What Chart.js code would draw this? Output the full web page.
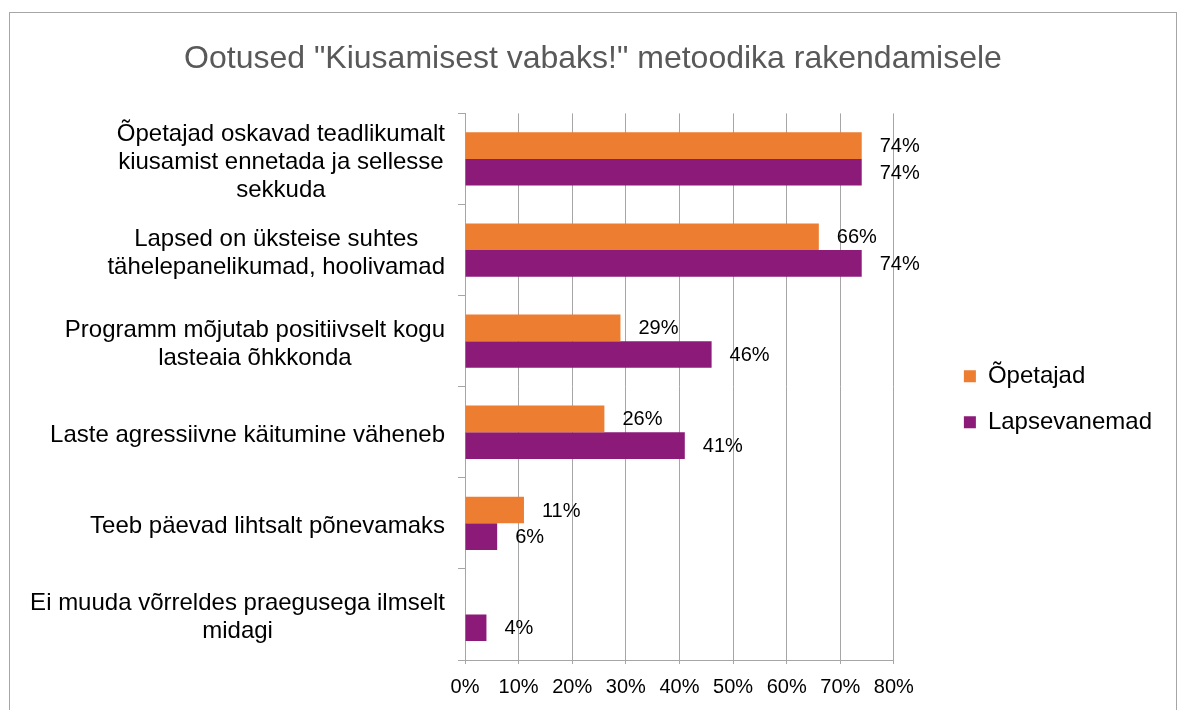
<!DOCTYPE html>
<html>
<head>
<meta charset="utf-8">
<title>Ootused</title>
<script src="https://cdn.jsdelivr.net/npm/chart.js@4.4.1/dist/chart.umd.min.js"></script>
<style>
  html, body { margin: 0; padding: 0; background: #fff; }
  #wrap { position: relative; width: 1180px; height: 710px; overflow: hidden; }
  #chart { display: block; }
  #frame { position: absolute; left: 9px; top: 12px; width: 1166px; height: 720px; border: 1px solid #a6a6a6; pointer-events: none; }
</style>
</head>
<body>
<div id="wrap">
  <canvas id="chart" width="1180" height="710"></canvas>
  <div id="frame"></div>
</div>
<script>
// andmed
const categories = [
  ["Õpetajad oskavad teadlikumalt", "kiusamist ennetada ja sellesse", "sekkuda"],
  ["Lapsed on üksteise suhtes", "tähelepanelikumad, hoolivamad"],
  ["Programm mõjutab positiivselt kogu", "lasteaia õhkkonda"],
  ["Laste agressiivne käitumine väheneb"],
  ["Teeb päevad lihtsalt põnevamaks"],
  ["Ei muuda võrreldes praegusega ilmselt", "midagi"]
];
const seriesNames = ["Õpetajad", "Lapsevanemad"];
const opetajad = [74, 66, 29, 26, 11, null];
const lapsevanemad = [74, 74, 46, 41, 6, 4];
const xMin = 0;
const xMax = 80;
const xStep = 10;
const chartTitle = 'Ootused "Kiusamisest vabaks!" metoodika rakendamisele';

const FONT = "'Liberation Sans', Arial, sans-serif";
Chart.defaults.font.family = FONT;
Chart.defaults.color = "#000";

// kategooriate sildid: iga plokk joondatud paremale, read keskel
const categoryLabels = {
  id: "categoryLabels",
  afterDraw(chart) {
    const ctx = chart.ctx;
    const y = chart.scales.y;
    ctx.save();
    ctx.font = "24px " + FONT;
    ctx.fillStyle = "#000";
    ctx.textAlign = "center";
    ctx.textBaseline = "middle";
    const right = y.right - 20;
    const lh = 28;
    categories.forEach((lines, i) => {
      const yc = y.getPixelForValue(i) + 3;
      const widest = Math.max(...lines.map(l => ctx.measureText(l).width));
      const cx = right - widest / 2;
      lines.forEach((line, j) => {
        ctx.fillText(line, cx, yc + (j - (lines.length - 1) / 2) * lh);
      });
    });
    ctx.restore();
  }
};

// väärtuste sildid tulpade järel
const valueLabels = {
  id: "valueLabels",
  afterDatasetsDraw(chart) {
    const ctx = chart.ctx;
    ctx.save();
    ctx.font = "20px " + FONT;
    ctx.fillStyle = "#000";
    ctx.textAlign = "left";
    ctx.textBaseline = "middle";
    chart.data.datasets.forEach((ds, di) => {
      const meta = chart.getDatasetMeta(di);
      meta.data.forEach((bar, i) => {
        const v = ds.data[i];
        if (v == null) return;
        ctx.fillText(v + "%", bar.x + 18, bar.y + 1);
      });
    });
    ctx.restore();
  }
};

new Chart(document.getElementById("chart"), {
  type: "bar",
  data: {
    labels: categories,
    datasets: [
      { label: seriesNames[0], data: opetajad, backgroundColor: "#ED7D31" },
      { label: seriesNames[1], data: lapsevanemad, backgroundColor: "#8C1A78" }
    ]
  },
  options: {
    indexAxis: "y",
    responsive: false,
    animation: false,
    layout: { padding: { top: 15, left: 24, right: 18, bottom: 0 } },
    datasets: { bar: { categoryPercentage: 0.585, barPercentage: 1 } },
    scales: {
      x: {
        min: xMin, max: xMax,
        ticks: { stepSize: xStep, callback: v => v + "%", font: { size: 20 }, padding: 11, color: "#000" },
        grid: { color: "#a6a6a6", tickLength: 4 },
        border: { color: "#a6a6a6" }
      },
      y: {
        ticks: { display: false },
        grid: { drawOnChartArea: false, tickLength: 7, color: "#a6a6a6", offset: true },
        border: { color: "#a6a6a6" },
        afterFit: s => { s.width = 441; }
      },
      // tühi telg legendi ja joonise vahele
      spacer: {
        type: "category", axis: "y", position: "right",
        ticks: { display: false },
        grid: { display: false },
        border: { display: false },
        afterFit: s => { s.width = 48; }
      }
    },
    plugins: {
      title: {
        display: true, text: chartTitle, color: "#595959",
        font: { size: 32, weight: "normal" },
        padding: { top: 25, bottom: 35 }
      },
      legend: {
        position: "right",
        fullSize: false,
        maxWidth: 300,
        title: { display: true, text: "", font: { size: 10 }, padding: 6.5 },
        labels: { boxWidth: 12, boxHeight: 12, padding: 22, font: { size: 24 }, color: "#000" }
      },
      tooltip: { enabled: false }
    }
  },
  plugins: [categoryLabels, valueLabels]
});
</script>
</body>
</html>
